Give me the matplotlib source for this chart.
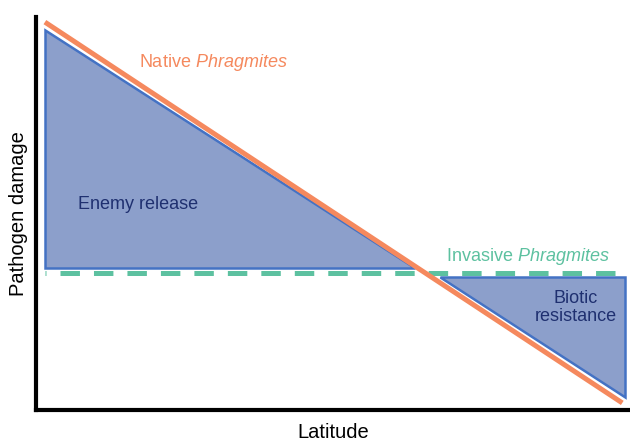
import matplotlib
matplotlib.use("Agg")
import matplotlib.pyplot as plt
from matplotlib.patches import Polygon

plt.rcParams['font.family'] = ['Liberation Sans', 'DejaVu Sans']
plt.rcParams['mathtext.fontset'] = 'custom'
plt.rcParams['mathtext.it'] = 'Liberation Sans:italic'
plt.rcParams['mathtext.rm'] = 'Liberation Sans'

# Data (normalized latitude / pathogen damage)
latitude = [0.015, 0.987]
native_damage = [0.987, 0.018]
invasive_x = [0.015, 0.975]
invasive_damage = [0.349, 0.349]
enemy_release_tri = [(0.015, 0.967), (0.015, 0.361), (0.638, 0.361)]
biotic_resist_tri = [(0.680, 0.338), (0.992, 0.338), (0.992, 0.033)]

fig = plt.figure(figsize=(6.3, 4.4), dpi=100)
ax = fig.add_axes([36/630, 30/440, 594/630, 393/440])
ax.set_xlim(0, 1)
ax.set_ylim(0, 1)

fill_c = '#8C9FCB'
edge_c = '#4472C4'
for tri in (enemy_release_tri, biotic_resist_tri):
    ax.add_patch(Polygon(tri, closed=True, facecolor=fill_c, edgecolor=edge_c, lw=1.8, zorder=2))

lw = 3.6
ax.plot(invasive_x, invasive_damage, color='#5DC1A0', lw=lw,
        linestyle=(13.3/lw, (14.0/lw, 10.1/lw)), dash_capstyle='butt', zorder=3)
ax.plot(latitude, native_damage, color='#F5895E', lw=lw, solid_capstyle='butt', zorder=4)

fs = 13
ax.text(0.298, 0.885, 'Native $\\it{Phragmites}$', color='#F5895E', fontsize=fs,
        ha='center', va='center')
ax.text(0.172, 0.524, 'Enemy release', color='#1F3070', fontsize=fs,
        ha='center', va='center')
ax.text(0.828, 0.391, 'Invasive $\\it{Phragmites}$', color='#5DC1A0', fontsize=fs,
        ha='center', va='center')
ax.text(0.909, 0.26, 'Biotic\nresistance', color='#1F3070', fontsize=fs,
        ha='center', va='center', linespacing=1.1)

for s in ('top', 'right'):
    ax.spines[s].set_visible(False)
for s in ('left', 'bottom'):
    ax.spines[s].set_linewidth(3)
    ax.spines[s].set_color('black')
ax.set_xticks([])
ax.set_yticks([])
ax.set_xlabel('Latitude', fontsize=14.5, labelpad=9)
ax.set_ylabel('Pathogen damage', fontsize=14.5, labelpad=6)

fig.savefig('out.png', dpi=100)
